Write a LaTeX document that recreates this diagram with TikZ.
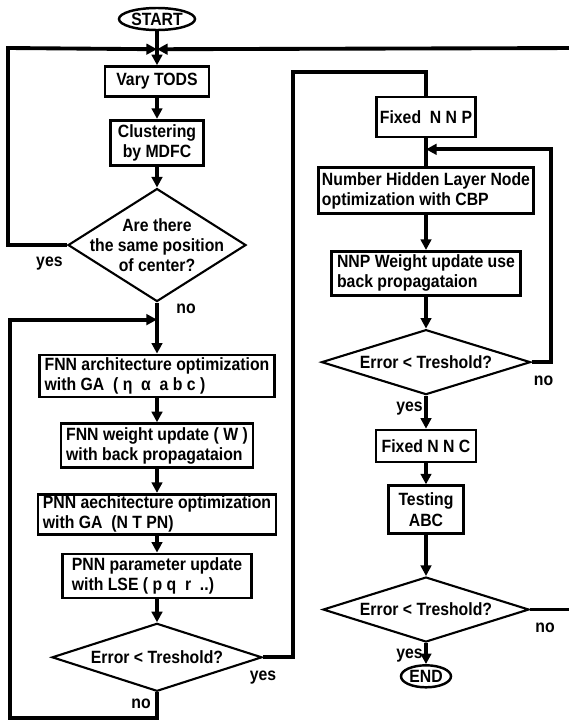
\documentclass[tikz,border=0pt]{standalone}
\usepackage{fontspec}
\setmainfont{Liberation Sans}[FakeStretch=0.89]
\usetikzlibrary{positioning,shapes.geometric,arrows.meta}
\tikzset{
  every node/.style={font=\bfseries\fontsize{10.1}{11.4}\selectfont},
  box/.style={draw, rectangle, line width=1.5pt, inner xsep=2pt, inner ysep=1pt, align=left},
  decision/.style={draw, diamond, line width=1.2pt, inner sep=0pt},
  terminal/.style={draw, ellipse, line width=1.4pt, inner sep=0pt},
  lbl/.style={inner sep=0pt},
  flow/.style={line width=2.2pt},
  arr/.style={flow, -{Triangle[length=6pt,width=6pt]}}
}
\begin{document}
\begin{tikzpicture}
\useasboundingbox (0,0) rectangle (11.38,-14.46);
\node [terminal, minimum width=1.52cm, minimum height=0.44cm] (start) at (3.14,-0.38) {START};
\coordinate [below=0.36cm of start] (j1);
\node [box, below=0.68cm of start, minimum width=2.08cm, minimum height=0.60cm] (vary) {Vary TODS};
\node [box, below=0.42cm of vary, align=center, minimum width=1.86cm, minimum height=0.90cm] (clus) {Clustering\\by MDFC};
\node [decision, below=0.42cm of clus, minimum width=3.56cm, minimum height=2.26cm] (d1) {};
\node [align=center] (t1) at (d1) {Are there\\the same position\\of center?};
%----------------------------------
\node [box, below=1.02cm of d1, minimum width=4.70cm, minimum height=0.84cm] (fnna) {FNN architecture optimization\\with GA~ ( η~ α~ a b c )};
\coordinate [above=0.68cm of fnna] (j3);
\node [box, below=0.48cm of fnna, minimum width=3.84cm, minimum height=0.88cm] (fnnw) {FNN weight update ( W )\\with back propagataion};
\node [box, below=0.48cm of fnnw, minimum width=4.76cm, minimum height=0.80cm] (pnna) {PNN aechitecture optimization\\with GA~ (N T PN)};
\node [box, below=0.34cm of pnna, minimum width=3.78cm, minimum height=0.88cm] (pnnp) {PNN parameter update\\with LSE ( p q~ r~ ..)};
\node [decision, below=0.46cm of pnnp, minimum width=4.20cm, minimum height=1.36cm] (d2) {};
\node (t2) at (d2) {Error < Treshold?};
%----------------------------------
\node [box, minimum width=1.96cm, minimum height=0.80cm] (nnp) at (8.52,-2.34) {Fixed~ N N P};
\coordinate [below=0.22cm of nnp] (j2);
\coordinate [right=2.50cm of j2] (rl);
\node [box, below=0.56cm of nnp, minimum width=4.30cm, minimum height=0.92cm] (nhl) {Number Hidden Layer Node\\optimization with CBP};
\node [box, below=0.70cm of nhl, minimum width=3.78cm, minimum height=0.88cm] (nnpw) {NNP Weight update use\\back propagataion};
\node [decision, below=0.64cm of nnpw, minimum width=4.18cm, minimum height=1.30cm] (d3) {};
\node (t3) at (d3) {Error < Treshold?};
\node [box, below=0.66cm of d3, minimum width=2.00cm, minimum height=0.64cm] (nnc) {Fixed N N C};
\node [box, below=0.42cm of nnc, align=center, minimum width=1.50cm, minimum height=0.96cm] (test) {Testing\\ABC};
\node [decision, below=0.82cm of test, minimum width=4.12cm, minimum height=1.30cm] (d4) {};
\node (t4) at (d4) {Error < Treshold?};
\node [terminal, below=0.42cm of d4, minimum width=1.00cm, minimum height=0.44cm] (end) {END};
%----------------------------------
\node [lbl, below left=0.24cm and 0.08cm of d1.west] (y1) {yes};
\node [lbl, below right=0.02cm and 0.38cm of d1.south] (n1) {no};
\node [lbl, below=0.26cm of d2.east] (y2) {yes};
\node [lbl, below left=0.12cm and 0.12cm of d2.south] (n2) {no};
\node [lbl, below right=0.27cm and 0.04cm of d3.east] (n3) {no};
\node [lbl, below left=0.12cm and 0.06cm of d3.south] (y3) {yes};
\node [lbl, below right=0.27cm and 0.10cm of d4.east] (n4) {no};
\node [lbl, below left=0.12cm and 0.06cm of d4.south] (y4) {yes};
%----------------------------------
\coordinate (lt) at (0.16,-0.96);
\coordinate (rt) at (11.60,-0.96);
\coordinate (lb) at (0.20,-14.36);
\coordinate (yb) at (5.86,-1.44);
\coordinate [right=0.9cm of d4.east] (r4);
%----------------------------------
\draw [flow] (start) -- (j1);
\draw [arr] (j1) -- (vary);
\draw [arr] (rt) -- (j1);
\draw [arr] (d1.west) -| (lt) -- (j1);
\draw [arr] (vary) -- (clus);
\draw [arr] (clus) -- (d1);
\draw [arr] (d1) -- (fnna);
\draw [arr] (fnna) -- (fnnw);
\draw [arr] (fnnw) -- (pnna);
\draw [arr] (pnna) -- (pnnp);
\draw [arr] (pnnp) -- (d2);
\draw [arr] (d2.south) |- (lb) |- (j3);
\draw [flow] (d2.east) -| (yb) -| (nnp.north);
%----------------------------------
\draw [flow] (nnp) -- (j2) -- (nhl);
\draw [arr] (nhl) -- (nnpw);
\draw [arr] (nnpw) -- (d3);
\draw [arr] (d3.east) -| (rl) -- (j2);
\draw [arr] (d3) -- (nnc);
\draw [arr] (nnc) -- (test);
\draw [arr] (test) -- (d4);
\draw [arr] (d4) -- (end);
\draw [flow] (d4.east) -- (r4);
\end{tikzpicture}
\end{document}
